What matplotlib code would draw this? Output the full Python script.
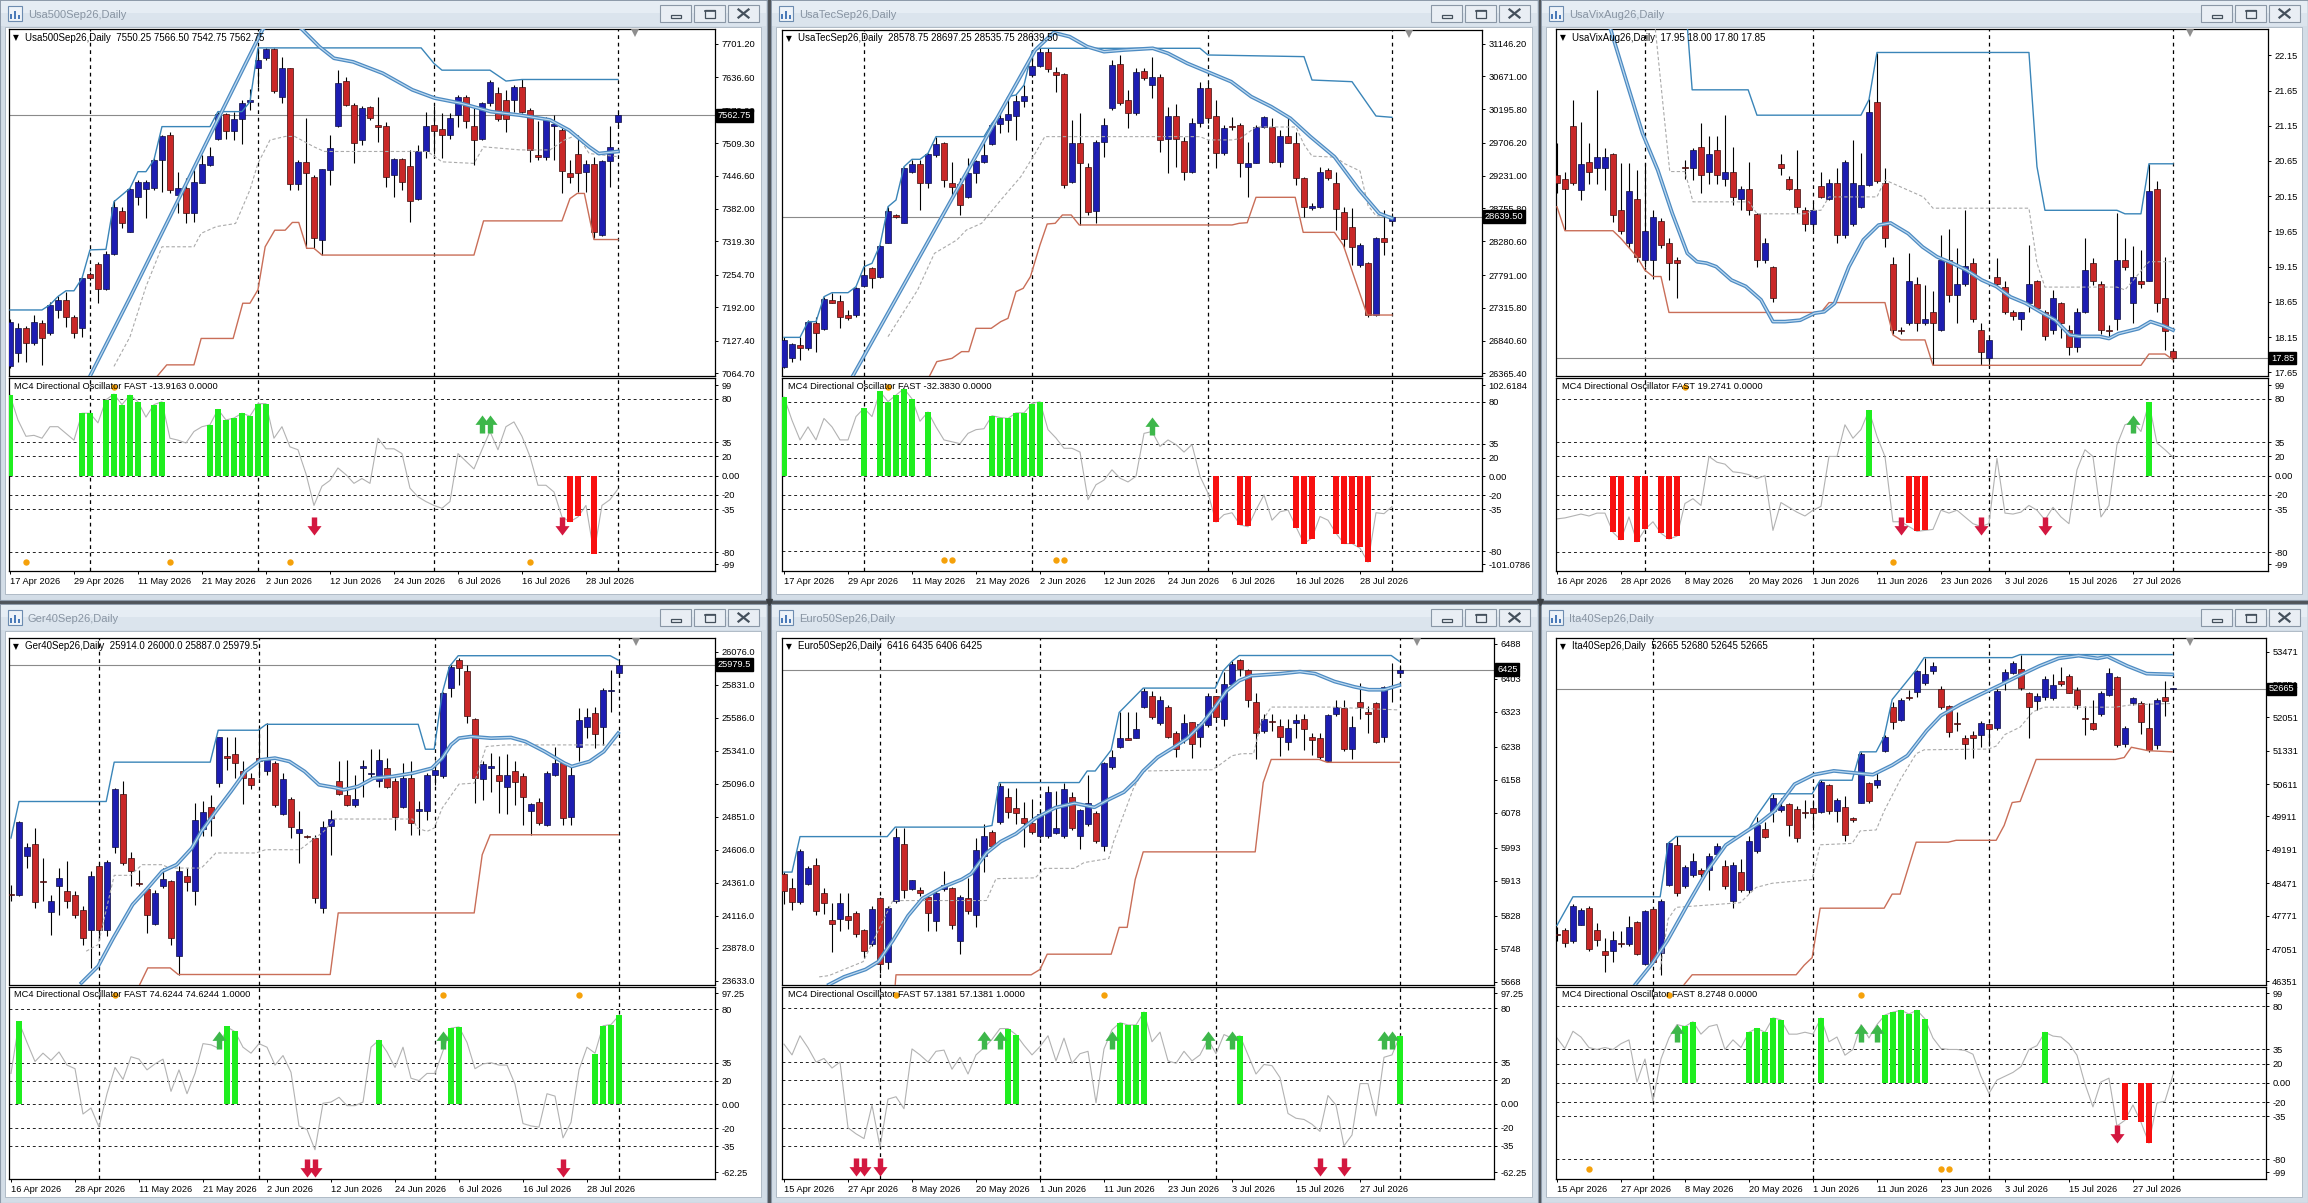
import numpy as np
import matplotlib
matplotlib.use("Agg")
import matplotlib.pyplot as plt
from matplotlib.patches import Rectangle
from matplotlib.path import Path
from matplotlib.transforms import offset_copy, blended_transform_factory

plt.rcParams["font.family"] = ["Liberation Sans", "DejaVu Sans"]

W, H = 2308, 1203
FS = 6.7

# ---------------- Usa500Sep26 ----------------
usa500_open = [7078, 7103, 7153, 7124, 7162, 7142, 7187, 7206, 7173, 7152,
               7256, 7276, 7227, 7296, 7379, 7338, 7406, 7420, 7422, 7477,
               7525, 7409, 7423, 7374, 7432, 7467, 7518, 7565, 7533, 7555,
               7589, 7654, 7673, 7690, 7599, 7654, 7430, 7473, 7443, 7323,
               7457, 7542, 7630, 7583, 7515, 7578, 7544, 7542, 7448, 7478,
               7464, 7401, 7494, 7544, 7536, 7525, 7563, 7598, 7542, 7518,
               7587, 7605, 7592, 7592, 7617, 7574, 7486, 7482, 7542, 7534,
               7452, 7489, 7454, 7469, 7332, 7475, 7550.25]
usa500_high = [7170, 7161, 7157, 7177, 7167, 7203, 7213, 7222, 7177, 7251,
               7261, 7280, 7300, 7399, 7386, 7422, 7438, 7438, 7480, 7525,
               7531, 7454, 7441, 7457, 7486, 7502, 7570, 7568, 7570, 7592,
               7613, 7692, 7692, 7692, 7676, 7654, 7477, 7557, 7448, 7460,
               7525, 7650, 7636, 7586, 7581, 7581, 7599, 7549, 7480, 7480,
               7496, 7506, 7570, 7580, 7567, 7567, 7602, 7602, 7576, 7589,
               7631, 7618, 7612, 7621, 7632, 7576, 7551, 7560, 7563, 7538,
               7477, 7525, 7477, 7483, 7477, 7542, 7566.5]
usa500_low = [7075, 7087, 7087, 7119, 7081, 7139, 7171, 7155, 7132, 7135,
              7245, 7200, 7226, 7293, 7345, 7338, 7390, 7364, 7419, 7415,
              7412, 7374, 7354, 7357, 7432, 7464, 7515, 7518, 7515, 7507,
              7573, 7618, 7670, 7605, 7586, 7419, 7419, 7306, 7306, 7293,
              7428, 7541, 7580, 7471, 7506, 7554, 7512, 7425, 7406, 7419,
              7357, 7399, 7480, 7489, 7480, 7518, 7541, 7538, 7467, 7515,
              7580, 7551, 7531, 7570, 7567, 7473, 7477, 7477, 7477, 7412,
              7432, 7415, 7415, 7325, 7329, 7425, 7542.75]
usa500_close = [7164, 7152, 7124, 7164, 7132, 7197, 7206, 7173, 7142, 7248,
                7248, 7227, 7296, 7386, 7354, 7420, 7435, 7435, 7477, 7522,
                7419, 7422, 7374, 7435, 7469, 7484, 7565, 7533, 7555, 7587,
                7592, 7670, 7690, 7609, 7654, 7430, 7473, 7451, 7325, 7460,
                7499, 7625, 7583, 7510, 7576, 7557, 7541, 7444, 7478, 7435,
                7397, 7494, 7542, 7533, 7525, 7557, 7598, 7551, 7516, 7586,
                7628, 7555, 7555, 7617, 7570, 7496, 7483, 7555, 7546, 7456,
                7444, 7452, 7469, 7338, 7475, 7502, 7562.75]
usa500_upper_x = [0, 4, 5, 6, 7, 8, 9, 10, 12, 13, 14, 15, 16, 17, 18, 19, 25, 26, 29, 30,
                  31, 32, 51.4, 53, 54, 60, 62, 64, 76]
usa500_upper_y = [7187, 7187, 7197, 7213, 7224, 7224, 7248, 7303, 7304, 7396, 7409, 7422, 7454,
                  7454, 7477, 7541, 7541, 7570, 7570, 7589, 7693, 7693, 7693, 7663, 7650, 7650,
                  7629, 7632, 7632]
usa500_lower_x = [18.4, 19.6, 23, 23.9, 27.9, 29.1, 30, 31, 31.9, 33.1, 34.4, 35.3, 36.1, 37.1,
                  38, 39, 58, 59.2, 69, 70, 70.9, 71.8, 73, 76]
usa500_lower_y = [7059, 7081, 7081, 7132, 7132, 7200, 7200, 7226, 7309, 7341, 7341, 7356, 7356,
                  7306, 7306, 7293, 7293, 7359, 7359, 7402, 7412, 7412, 7323, 7323]
usa500_mid_x = [13, 15, 17, 19, 23, 23.9, 25.8, 28.2, 30, 31, 32.5, 34.4, 35.6, 38, 39.3, 52.2,
                54, 58, 59.2, 63.8, 67.5, 69.3, 70.9, 72.4, 76]
usa500_mid_y = [7078, 7135, 7232, 7309, 7309, 7335, 7348, 7354, 7419, 7470, 7515, 7522, 7522,
                7502, 7493, 7493, 7473, 7470, 7502, 7496, 7496, 7515, 7525, 7489, 7483]
usa500_ma_x = [10, 15, 20, 25, 29.5, 31.6, 34, 36.5, 38.7, 40.5, 42.9, 46.6, 50.3, 53.1, 56.4,
               60.1, 63.8, 67.5, 69.9, 72.4, 73.6, 76]
usa500_ma_y = [7059, 7211, 7367, 7524, 7664, 7729, 7765, 7729, 7695, 7673, 7666, 7644, 7612,
               7596, 7586, 7570, 7563, 7554, 7534, 7502, 7489, 7493]
usa500_osc = [84, 58, 41, 42, 39, 51, 51, 44, 37, 65,
              65, 55, 79, 85, 74, 84, 77, 61, 74, 77,
              39, 37, 34, 46, 51, 53, 69, 58, 60, 65,
              62, 75, 75, 39, 51, 30, 27, 2, -31, -11,
              -5, 8, 1, -8, -3, -8, 39, 28, 28, 23,
              -13, -22, -27, -31, -34, -27, 23, 15, 7, 27,
              46, 27, 51, 56, 41, 20, -10, -10, -17, -43,
              -48, -43, -31, -81, -31, -25, -13.9]
usa500_green_idx = [0, 9, 10, 12, 13, 14, 15, 16, 18, 19, 25, 26, 27, 28, 29, 30, 31, 32]
usa500_green_val = [84, 65, 65, 79, 85, 74, 84, 77, 74, 77, 53, 69, 58, 60, 65, 62, 75, 75]
usa500_red_idx = [70, 71, 73]
usa500_red_val = [-48, -42, -82]
usa500_up_idx = [59, 60]
usa500_down_idx = [38, 69]
usa500_dot_low = [2, 20, 35, 65]
usa500_dot_high = [13]
usa500_ticks = [7701.20, 7636.60, 7572.00, 7509.30, 7446.60, 7382.00, 7319.30, 7254.70,
                7192.00, 7127.40, 7064.70]
usa500_ticklabels = ["7701.20", "7636.60", "7572.00", "7509.30", "7446.60", "7382.00",
                     "7319.30", "7254.70", "7192.00", "7127.40", "7064.70"]

# ---------------- UsaTecSep26 ----------------
usatec_open = [26462, 26583, 26776, 26728, 27090, 27003, 27429, 27419, 27211, 27211,
               27632, 27888, 27758, 28260, 28662, 28550, 29290, 29401, 29130, 29532,
               29701, 29130, 29111, 28928, 29266, 29435, 29691, 29981, 30039, 30097,
               30320, 30692, 30822, 31030, 30740, 30706, 29145, 29711, 29362, 28724,
               29725, 30208, 30851, 30329, 30136, 30755, 30547, 30668, 29759, 30097,
               29740, 29290, 30001, 30498, 30097, 29556, 29952, 29967, 29362, 29421,
               29943, 29933, 29435, 29807, 29701, 29193, 28758, 28782, 29314, 29130,
               28710, 28492, 27936, 27970, 27211, 28323, 28578.75]
usatec_high = [26897, 26800, 26897, 27139, 27187, 27477, 27526, 27501, 27284, 27622,
               27961, 27912, 28227, 28782, 28670, 29362, 29459, 29459, 29556, 29798,
               29725, 29435, 29193, 29483, 29459, 29749, 29991, 30136, 30378, 30402,
               30547, 31030, 31079, 31079, 30813, 30726, 30039, 30136, 29411, 29749,
               30063, 30909, 30982, 30474, 30788, 30788, 30958, 30706, 30233, 30271,
               29798, 30063, 30595, 30571, 30329, 29967, 30088, 29991, 29725, 29967,
               30097, 30063, 29894, 30063, 29870, 29217, 28830, 29362, 29338, 29290,
               28782, 28758, 28251, 27985, 28347, 28734, 28697.25]
usatec_low = [26440, 26535, 26559, 26704, 26680, 26994, 27380, 27018, 27139, 27187,
              27622, 27598, 27743, 28251, 28625, 28541, 29266, 28734, 29048, 29507,
              29072, 28928, 28662, 28903, 29121, 29411, 29677, 29846, 29870, 29749,
              30233, 30668, 30813, 30740, 30450, 29048, 29121, 28517, 28662, 28541,
              29507, 30184, 30257, 29918, 30112, 30619, 30353, 29580, 29266, 29362,
              29169, 29266, 29943, 29991, 29338, 29532, 29894, 29217, 28928, 29411,
              29918, 29411, 29362, 29701, 29097, 28637, 28734, 28758, 29169, 28444,
              28202, 27936, 27912, 27187, 27197, 28081, 28535.75]
usatec_close = [26849, 26791, 26728, 27115, 26945, 27438, 27390, 27187, 27163, 27598,
                27791, 27743, 28212, 28724, 28637, 29338, 29401, 29130, 29546, 29691,
                29169, 29072, 28807, 29275, 29450, 29532, 29967, 30063, 30126, 30320,
                30387, 30822, 31030, 30774, 30692, 29097, 29711, 29411, 28710, 29725,
                29967, 30837, 30291, 30136, 30740, 30644, 30658, 29749, 30097, 29759,
                29290, 29991, 30498, 30063, 29556, 29918, 29933, 29421, 29411, 29943,
                30078, 29435, 29807, 29711, 29193, 28782, 28792, 29290, 29193, 28744,
                28309, 28202, 28227, 27211, 28323, 28275, 28639.5]
usatec_upper_x = [0, 2, 3, 4, 5, 6, 8, 9, 10, 11, 12, 13, 14, 15, 16, 17, 18, 19, 25, 26,
                  27, 28, 29, 30, 31, 32, 52, 53, 65, 66, 71, 74, 76]
usatec_upper_y = [26887, 26887, 27115, 27115, 27477, 27535, 27535, 27622, 27912, 27961,
                  28227, 28782, 28879, 29362, 29469, 29469, 29556, 29798, 29798, 29991,
                  30136, 30378, 30402, 30547, 31030, 31079, 31079, 30982, 30958, 30619,
                  30595, 30097, 30078]
usatec_lower_x = [18.2, 19.1, 21, 22.2, 23.1, 24, 25.9, 27.1, 28, 29, 29.9, 30.8, 32, 32.9,
                  33.9, 34.8, 35.9, 36.9, 56, 56.9, 57.9, 59, 63.9, 64.9, 68.8, 69.9, 72.9, 76]
usatec_lower_y = [26327, 26535, 26583, 26680, 26680, 27018, 27018, 27115, 27163, 27550,
                  27598, 27767, 28227, 28531, 28541, 28662, 28662, 28517, 28517, 28541,
                  28550, 28918, 28918, 28410, 28410, 28227, 27211, 27211]
usatec_mid_x = [13, 16.7, 18.8, 21.6, 22.8, 24.7, 27.1, 29.6, 31.4, 32.6, 35.1, 52, 53, 56,
                57, 59, 64, 65, 66, 69, 70, 72, 73, 74, 76]
usatec_mid_y = [26897, 27574, 28105, 28299, 28444, 28541, 28879, 29217, 29556, 29798, 29798,
                29798, 29750, 29750, 29770, 29938, 29938, 29684, 29515, 29500, 29410, 29300,
                28800, 28650, 28645]
usatec_ma_x = [8.6, 31.4, 33.7, 35.7, 37.9, 40, 42.5, 46.1, 48, 50.4, 52.9, 55.9, 58.4, 60.9,
               63.3, 65.8, 68.8, 71.9, 74.4, 76]
usatec_ma_y = [26327, 31054, 31306, 31248, 31103, 31030, 31054, 31079, 31006, 30861, 30740,
               30595, 30378, 30233, 30063, 29798, 29507, 29024, 28685, 28613]
usatec_osc = [85, 60, 39, 53, 39, 62, 53, 39, 39, 64,
              73, 64, 91, 80, 87, 94, 83, 59, 69, 53,
              39, 37, 35, 46, 50, 51, 65, 63, 62, 68,
              68, 78, 80, 50, 41, 30, 30, 26, -25, -9,
              -4, 7, -2, -6, 0, 46, 48, 32, 39, 34,
              26, 34, 0, -18, -49, -41, -39, -52, -54, -36,
              -20, -47, -38, -36, -54, -72, -66, -43, -47, -61,
              -72, -72, -77, -92, -39, -40, -32.4]
usatec_green_idx = [0, 10, 12, 13, 14, 15, 16, 18, 26, 27, 28, 29, 30, 31, 32]
usatec_green_val = [85, 73, 91, 80, 87, 94, 83, 69, 65, 63, 62, 68, 68, 78, 80]
usatec_red_idx = [54, 57, 58, 64, 65, 66, 69, 70, 71, 72, 73]
usatec_red_val = [-49, -52, -53, -55, -72, -67, -62, -72, -72, -76, -92]
usatec_up_idx = [46]
usatec_down_idx = []
usatec_dot_low = [20, 21, 34, 35]
usatec_dot_high = [13]
usatec_ticks = [31146.20, 30671.00, 30195.80, 29706.20, 29231.00, 28755.80, 28280.60,
                27791.00, 27315.80, 26840.60, 26365.40]
usatec_ticklabels = ["31146.20", "30671.00", "30195.80", "29706.20", "29231.00", "28755.80",
                     "28280.60", "27791.00", "27315.80", "26840.60", "26365.40"]

# ---------------- UsaVixAug26 ----------------
usavix_open = [20.45, 20.40, 21.15, 20.24, 20.64, 20.55, 20.55, 20.75, 19.95, 19.49,
               20.11, 19.25, 19.25, 19.80, 19.49, 19.25, 20.56, 20.55, 20.85, 20.50,
               20.80, 20.40, 20.50, 20.11, 20.25, 19.90, 19.25, 19.15, 20.60, 20.40,
               20.25, 19.95, 19.76, 20.30, 20.11, 20.34, 19.60, 19.76, 19.99, 20.31,
               21.49, 20.34, 19.19, 18.25, 18.35, 18.90, 18.35, 18.50, 18.25, 19.25,
               18.75, 18.90, 19.20, 18.25, 17.85, 19.00, 18.86, 18.51, 18.40, 18.64,
               18.95, 18.51, 18.25, 18.64, 18.25, 18.01, 18.50, 19.20, 18.90, 18.25,
               18.40, 19.25, 18.64, 18.95, 18.95, 20.25, 18.70, 17.95]
usavix_high = [20.90, 20.50, 21.52, 21.21, 20.90, 21.66, 20.83, 20.76, 20.62, 20.62,
               20.52, 20.62, 19.95, 19.84, 19.55, 19.29, 20.66, 20.83, 21.19, 21.00,
               21.00, 21.30, 20.85, 20.29, 20.64, 19.91, 19.55, 19.16, 20.75, 20.43,
               20.81, 20.00, 20.05, 20.50, 20.39, 20.55, 20.66, 20.95, 20.76, 21.53,
               22.18, 20.55, 19.29, 18.30, 19.34, 19.01, 18.89, 18.80, 19.60, 19.69,
               19.41, 19.95, 19.27, 18.35, 18.14, 19.27, 18.94, 18.53, 18.51, 19.46,
               18.96, 18.54, 18.82, 18.65, 18.32, 18.56, 19.55, 19.27, 18.94, 18.32,
               19.91, 19.55, 19.44, 19.39, 20.61, 20.36, 19.29, 18.00]
usavix_low = [20.19, 19.67, 20.31, 20.10, 20.33, 20.33, 20.24, 19.79, 19.62, 19.41,
              19.22, 19.15, 18.98, 19.41, 18.96, 18.70, 20.40, 20.38, 20.19, 20.33,
              20.33, 20.29, 20.03, 19.95, 19.88, 19.15, 19.20, 18.65, 20.45, 20.24,
              19.91, 19.65, 19.67, 20.12, 20.10, 19.49, 19.55, 19.72, 19.98, 20.29,
              20.34, 19.43, 18.20, 18.20, 18.32, 18.23, 18.32, 17.75, 18.23, 18.65,
              18.35, 18.88, 18.37, 17.75, 17.73, 18.87, 18.48, 18.39, 18.25, 18.51,
              18.54, 18.11, 18.20, 18.14, 17.90, 17.94, 18.49, 18.89, 18.20, 18.15,
              18.25, 19.10, 18.35, 18.84, 18.94, 18.51, 17.97, 17.80]
usavix_close = [20.34, 20.25, 20.34, 20.61, 20.50, 20.70, 20.70, 19.88, 19.65, 20.22,
                19.29, 19.66, 19.85, 19.46, 19.20, 19.20, 20.55, 20.81, 20.45, 20.75,
                20.45, 20.50, 20.14, 20.25, 19.95, 19.25, 19.49, 18.70, 20.55, 20.25,
                19.99, 19.76, 19.95, 20.14, 20.34, 19.60, 20.64, 20.34, 20.31, 21.35,
                20.36, 19.55, 18.25, 18.24, 18.95, 18.35, 18.40, 18.35, 19.25, 18.75,
                18.90, 19.16, 18.40, 17.94, 18.11, 18.90, 18.50, 18.45, 18.51, 18.90,
                18.56, 18.16, 18.70, 18.35, 18.01, 18.50, 19.10, 18.95, 18.25, 18.24,
                19.25, 19.15, 19.01, 18.90, 20.22, 18.64, 18.24, 17.85]
usavix_upper_x = [0, 16, 16.9, 23.9, 25, 38, 39, 40, 59, 60, 61, 70, 71, 73, 74, 77]
usavix_upper_y = [23.0, 23.0, 21.66, 21.66, 21.30, 21.30, 21.52, 22.19, 22.19, 20.57, 19.95,
                  19.95, 19.90, 19.90, 20.61, 20.61]
usavix_lower_x = [0, 1, 7, 8, 10, 11, 12, 13, 14, 33, 34, 41, 42, 43, 46, 47, 73, 74, 76, 77]
usavix_lower_y = [20.00, 19.66, 19.66, 19.55, 19.29, 19.10, 19.01, 19.01, 18.50, 18.50, 18.64,
                  18.64, 18.18, 18.11, 18.11, 17.75, 17.75, 17.91, 17.91, 17.83]
usavix_mid_x = [12.3, 14.1, 16, 17, 24, 25, 31, 32, 33, 34, 40, 41, 45.8, 47, 59, 60, 61, 70,
                71, 74, 77]
usavix_mid_y = [22.52, 20.50, 20.50, 20.07, 20.07, 19.90, 19.90, 19.95, 19.95, 20.14, 20.14,
                20.38, 20.14, 19.98, 19.98, 19.20, 18.86, 18.86, 18.82, 19.22, 19.22]
usavix_ma_x = [5.5, 6.7, 8.9, 10.7, 12.6, 14.4, 16.3, 17.5, 18.7, 19.9, 21.8, 23.6, 25.5, 27,
               28.5, 30.4, 32.2, 33.4, 34.7, 36.5, 38.3, 40.2, 41.7, 43.9, 45.7, 47.5, 49.4,
               51.2, 53.1, 54.9, 56.7, 58.6, 60.4, 62.3, 64.1, 65.3, 67.8, 69, 70.2, 72.7,
               74.2, 75.8, 77]
usavix_ma_y = [22.9, 22.52, 21.70, 21.04, 20.52, 19.91, 19.34, 19.22, 19.20, 19.15, 18.96,
               18.87, 18.68, 18.37, 18.37, 18.39, 18.49, 18.51, 18.63, 19.15, 19.53, 19.74,
               19.77, 19.62, 19.43, 19.29, 19.20, 19.10, 18.96, 18.87, 18.72, 18.63, 18.51,
               18.39, 18.18, 18.16, 18.16, 18.13, 18.20, 18.27, 18.37, 18.31, 18.25]
usavix_osc = [-45, -44, -42, -40, -42, -39, -39, -59, -67, -43,
              -69, -56, -48, -60, -66, -63, -29, -24, -31, 20,
              14, 12, 4, 3, 1, -3, 0, -57, -28, -33,
              -38, -42, -36, -32, 20, 20, 53, 39, 48, 68,
              41, 20, -48, -48, -53, -58, -57, -56, -36, -39,
              -36, -43, -50, -53, -50, 18, -39, -40, -38, -31,
              -36, -46, -33, -43, -50, 6, 27, 20, -43, -31,
              32, 53, 56, 46, 76, 34, 27, 19.3]
usavix_green_idx = [39, 74]
usavix_green_val = [68, 77]
usavix_red_idx = [7, 8, 10, 11, 13, 14, 15, 44, 45, 46]
usavix_red_val = [-59, -67, -69, -56, -60, -66, -63, -49, -58, -57]
usavix_up_idx = [72]
usavix_down_idx = [43, 53, 61]
usavix_dot_low = [42]
usavix_dot_high = [16]
usavix_ticks = [22.15, 21.65, 21.15, 20.65, 20.15, 19.65, 19.15, 18.65, 18.15, 17.65]
usavix_ticklabels = ["22.15", "21.65", "21.15", "20.65", "20.15", "19.65", "19.15", "18.65",
                     "18.15", "17.65"]

# ---------------- Ger40Sep26 ----------------
ger40_open = [24278, 24268, 24557, 24648, 24377, 24144, 24335, 24302, 24273, 24161,
              24013, 24483, 24013, 24624, 25019, 24545, 24359, 24317, 24055, 24335,
              24377, 23816, 24409, 24302, 24762, 24925, 25100, 25298, 25315, 25187,
              25142, 25286, 25187, 25248, 24871, 24984, 24730, 24705, 24693, 24174,
              24779, 25118, 25009, 24940, 25211, 25167, 25118, 25211, 25118, 24920,
              25142, 24895, 24895, 25162, 25150, 25804, 26014, 25933, 25577, 25132,
              25211, 25162, 25068, 25192, 25150, 24890, 24959, 24792, 25162, 25248,
              24846, 25365, 25520, 25619, 25520, 25784, 25914]
ger40_high = [24347, 24816, 24656, 24767, 24545, 24273, 24470, 24520, 24297, 24186,
              24446, 24507, 24532, 25063, 25113, 24589, 24458, 24322, 24310, 24470,
              24384, 24483, 24470, 24952, 24964, 25014, 25446, 25439, 25439, 25261,
              25174, 25533, 25545, 25261, 25174, 25001, 24890, 24717, 24717, 24816,
              24903, 25266, 25273, 25162, 25273, 25355, 25355, 25286, 25137, 25248,
              25261, 24964, 25174, 25266, 25780, 25977, 26027, 25977, 25587, 25261,
              25323, 25298, 25315, 25261, 25174, 24952, 24989, 25187, 25372, 25261,
              25224, 25656, 25661, 25668, 25809, 25940, 26000]
ger40_low = [24223, 24260, 24470, 24174, 24223, 23976, 24124, 24174, 24100, 23902,
             23729, 23939, 23964, 24581, 24495, 24334, 24334, 23988, 24050, 24322,
             23902, 23680, 24297, 24198, 24705, 24705, 25068, 25199, 25137, 24945,
             25056, 25137, 25162, 24920, 24866, 24693, 24507, 24690, 24211, 24137,
             24569, 25014, 24927, 24920, 24994, 25125, 25068, 25063, 24754, 24915,
             24717, 24717, 24828, 25088, 25142, 25742, 25829, 25545, 24952, 24977,
             25038, 24878, 24871, 24940, 24791, 24717, 24786, 24779, 25150, 24792,
             24792, 25261, 25434, 25360, 25384, 25631, 25887]
ger40_close = [24268, 24811, 24624, 24218, 24367, 24223, 24396, 24223, 24120, 23952,
               24409, 24013, 24515, 25058, 24507, 24450, 24352, 24125, 24285, 24391,
               23952, 24446, 24367, 24829, 24885, 24841, 25439, 25286, 25248, 25137,
               25088, 25266, 25286, 24935, 25132, 24772, 24762, 24698, 24248, 24772,
               24836, 25019, 24940, 24984, 25231, 25174, 25273, 25068, 24846, 25142,
               24804, 24910, 25162, 25199, 25767, 25965, 25952, 25602, 25142, 25241,
               25224, 25118, 25162, 25108, 24994, 24945, 24804, 25174, 25248, 24841,
               25162, 25570, 25594, 25463, 25792, 25792, 25979.5]
ger40_upper_x = [0, 1, 11.9, 12.9, 24.9, 25.9, 30.9, 31.9, 50.9, 51.8, 52.9, 53.9, 54.8, 55.9,
                 74.9, 75.9]
ger40_upper_y = [24693, 24964, 24964, 25256, 25256, 25493, 25493, 25537, 25537, 25352, 25352,
                 25767, 25965, 26046, 26046, 26014]
ger40_lower_x = [16.1, 17.1, 19.9, 20.9, 39.9, 40.9, 57.9, 58.9, 59.9, 75.9]
ger40_lower_y = [23606, 23729, 23729, 23680, 23680, 24137, 24137, 24569, 24717, 24717]
ger40_mid_x = [9.4, 10.9, 12.9, 14.9, 16.4, 18.9, 19.8, 23.8, 25.6, 30.6, 31.8, 36.1, 39.1,
               40.4, 50.2, 50.8, 52, 52.9, 53.9, 56, 57.9, 59.4, 61.8, 75.9]
ger40_mid_y = [23853, 23902, 24416, 24416, 24495, 24495, 24470, 24470, 24582, 24582, 24606,
               24606, 24742, 24834, 24834, 24767, 24742, 24767, 24915, 25093, 25100, 25372,
               25384, 25384]
ger40_ma_x = [8.8, 10.9, 12.8, 15.2, 17.1, 18.9, 20.7, 22.6, 23.8, 25.6, 27.5, 29.3, 31.2, 33,
              34.8, 36.7, 38.5, 40.4, 41.6, 43.4, 45.3, 47.7, 50.2, 52.6, 53.9, 55, 56, 57.5,
              60, 62.5, 64.3, 66.7, 69.2, 70.1, 72.3, 74.1, 75.9]
ger40_ma_y = [23618, 23742, 23952, 24199, 24322, 24446, 24495, 24618, 24742, 24890, 25039,
              25187, 25273, 25286, 25261, 25187, 25088, 25068, 25051, 25076, 25137, 25150,
              25174, 25211, 25286, 25385, 25434, 25446, 25434, 25439, 25409, 25335, 25248,
              25224, 25261, 25335, 25471]
ger40_osc = [26, 69, 52, 36, 43, 37, 44, 33, 30, -8,
             -3, -19, 9, 31, 21, 40, 38, 29, 34, 38,
             11, 29, 9, 26, 51, 50, 47, 65, 61, 48,
             43, 51, 48, 33, 41, 27, -18, -21, -38, 1,
             2, 6, -1, -1, 2, 48, 54, 44, 31, 48,
             22, 20, 26, 26, 45, 64, 65, 52, 30, 34,
             35, 33, 33, 17, -16, -18, -19, 9, 7, -28,
             -15, 29, 48, 43, 66, 67, 74.6]
ger40_green_idx = [1, 27, 28, 46, 55, 56, 73, 74, 75, 76]
ger40_green_val = [70, 66, 62, 54, 64, 65, 42, 66, 67, 74.6]
ger40_red_idx = []
ger40_red_val = []
ger40_up_idx = [26, 54]
ger40_down_idx = [37, 38, 69]
ger40_dot_low = []
ger40_dot_high = [13, 54, 71]
ger40_ticks = [26076.0, 25831.0, 25586.0, 25341.0, 25096.0, 24851.0, 24606.0, 24361.0,
               24116.0, 23878.0, 23633.0]
ger40_ticklabels = ["26076.0", "25831.0", "25586.0", "25341.0", "25096.0", "24851.0",
                    "24606.0", "24361.0", "24116.0", "23878.0", "23633.0"]

# ---------------- Euro50Sep26 ----------------
euro50_open = [5930, 5896, 5862, 5905, 5950, 5883, 5817, 5821, 5828, 5834,
               5794, 5759, 5870, 5717, 5865, 6001, 5893, 5891, 5874, 5816,
               5893, 5896, 5768, 5872, 5831, 5973, 6031, 6056, 6117, 6090,
               6066, 6054, 6022, 6022, 6029, 6022, 6117, 6022, 6050, 6077,
               5997, 6188, 6237, 6258, 6260, 6334, 6360, 6295, 6334, 6272,
               6256, 6297, 6262, 6290, 6360, 6304, 6389, 6447, 6424, 6346,
               6276, 6301, 6287, 6250, 6295, 6306, 6262, 6260, 6204, 6318,
               6332, 6232, 6346, 6321, 6343, 6262, 6385, 6416]
euro50_high = [5934, 5920, 5990, 5948, 5969, 5895, 5858, 5883, 5883, 5840,
               5796, 5851, 5874, 5851, 6040, 6040, 5916, 5897, 5883, 5888,
               5936, 5899, 5879, 5920, 6017, 6050, 6036, 6151, 6138, 6138,
               6105, 6110, 6087, 6142, 6130, 6151, 6127, 6087, 6170, 6082,
               6202, 6230, 6321, 6323, 6321, 6380, 6373, 6360, 6339, 6276,
               6318, 6299, 6299, 6367, 6361, 6420, 6445, 6450, 6426, 6369,
               6318, 6318, 6306, 6304, 6318, 6318, 6272, 6272, 6318, 6350,
               6350, 6313, 6392, 6336, 6346, 6385, 6441, 6435]
euro50_low = [5856, 5842, 5856, 5902, 5831, 5833, 5740, 5791, 5796, 5777,
              5726, 5754, 5689, 5698, 5860, 5870, 5890, 5877, 5791, 5791,
              5888, 5796, 5736, 5833, 5800, 5934, 5990, 6050, 6064, 6050,
              5994, 6027, 6017, 6017, 6027, 6017, 6036, 5990, 6045, 6004,
              5985, 6184, 6235, 6253, 6258, 6332, 6306, 6290, 6258, 6212,
              6247, 6210, 6237, 6286, 6304, 6287, 6385, 6410, 6334, 6207,
              6272, 6276, 6216, 6230, 6258, 6230, 6219, 6207, 6200, 6313,
              6228, 6207, 6304, 6272, 6247, 6250, 6346, 6406]
euro50_close = [5888, 5862, 5985, 5943, 5839, 5860, 5807, 5858, 5819, 5784,
                5742, 5844, 5712, 5846, 6019, 5890, 5914, 5883, 5834, 5883,
                5902, 5805, 5874, 5840, 5988, 6022, 5997, 6142, 6080, 6077,
                6053, 6031, 6075, 6127, 6041, 6136, 6041, 6084, 6101, 6010,
                6198, 6214, 6258, 6253, 6281, 6373, 6311, 6350, 6262, 6232,
                6295, 6244, 6293, 6361, 6309, 6389, 6438, 6426, 6352, 6272,
                6306, 6297, 6262, 6284, 6302, 6281, 6253, 6214, 6315, 6334,
                6232, 6286, 6334, 6318, 6249, 6383, 6383, 6425]
euro50_upper_x = [0, 1, 2, 12.9, 13.9, 24.9, 26, 26.9, 36.9, 37.9, 38.9, 40.9, 41.9, 44.9,
                  53.9, 54.9, 56, 56.9, 75.9, 76.9]
euro50_upper_y = [5934, 5934, 6020, 6020, 6043, 6043, 6047, 6151, 6151, 6179, 6179, 6230, 6321,
                  6380, 6380, 6422, 6445, 6459, 6459, 6445]
euro50_lower_x = [13.9, 14, 30.9, 32, 32.9, 40.9, 41.9, 42.9, 43.9, 44.9, 58.9, 59.9, 60.9,
                  66.9, 67.9, 76.9]
euro50_lower_y = [5661, 5685, 5685, 5698, 5735, 5735, 5800, 5800, 5916, 5983, 5983, 6151, 6207,
                  6207, 6200, 6200]
euro50_mid_x = [4.4, 5.6, 9.9, 13.6, 25.3, 26.5, 31.4, 32.6, 36.3, 37.5, 40.6, 41.2, 43.7, 44.9,
                53.5, 54.4, 56, 57.2, 58.7, 59.6, 60.9, 68.2, 76.9]
euro50_mid_y = [5680, 5683, 5717, 5865, 5865, 5918, 5920, 5943, 5943, 5957, 5967, 6008, 6138,
                6179, 6182, 6193, 6216, 6221, 6221, 6295, 6334, 6334, 6327]
euro50_ma_x = [5.6, 7.5, 10.2, 11.8, 13.6, 15.5, 17.3, 19.8, 22.2, 23.4, 25.3, 27.1, 29, 31.4,
               33.9, 36.3, 38.8, 40.6, 42.5, 44, 44.9, 46.7, 48.6, 50.4, 52.3, 53.8, 55.3,
               56.9, 58.4, 62.1, 64.5, 66.4, 68.8, 71.3, 73.1, 75, 76.9]
euro50_ma_y = [5661, 5680, 5698, 5717, 5768, 5828, 5870, 5897, 5916, 5930, 5980, 6008, 6027,
               6064, 6090, 6101, 6091, 6110, 6128, 6156, 6179, 6212, 6235, 6258, 6295, 6332,
               6373, 6398, 6410, 6415, 6420, 6415, 6396, 6383, 6376, 6376, 6387]
euro50_osc = [50, 41, 57, 47, 35, 38, 30, 35, -20, -25,
              -29, -1, -36, 4, 6, -4, 46, 41, 35, 44,
              45, 29, 39, 25, 41, 47, 54, 63, 63, 58,
              49, 41, 48, 57, 36, 55, 34, 42, 44, 1,
              46, 62, 68, 66, 66, 77, 52, 60, 36, 34,
              44, 36, 41, 54, 42, 58, 55, 57, 41, 25,
              33, 32, 22, -8, -12, -13, -17, -23, 7, -1,
              -35, -26, 17, 17, -10, 39, 41, 57.1]
euro50_green_idx = [28, 29, 42, 43, 44, 45, 57, 77]
euro50_green_val = [63, 58, 68, 66, 66, 77, 57, 57.1]
euro50_red_idx = []
euro50_red_val = []
euro50_up_idx = [25, 27, 41, 53, 56, 75, 76]
euro50_down_idx = [9, 10, 12, 67, 70]
euro50_dot_low = []
euro50_dot_high = [14, 40]
euro50_ticks = [6488, 6403, 6323, 6238, 6158, 6078, 5993, 5913, 5828, 5748, 5668]
euro50_ticklabels = ["6488", "6403", "6323", "6238", "6158", "6078", "5993", "5913", "5828",
                     "5748", "5668"]

# ---------------- Ita40Sep26 ----------------
ita40_open = [47355, 47466, 47232, 47577, 47932, 47466, 47002, 47002, 47191, 47150,
              47627, 46726, 47915, 46973, 48425, 49306, 48401, 48648, 48755, 48755,
              49109, 48837, 48096, 48718, 48319, 49166, 49635, 50030, 50047, 50179,
              50071, 49993, 50096, 50014, 50590, 50030, 50113, 49882, 50212, 50623,
              50590, 51331, 52269, 51990, 52500, 52599, 52788, 53059, 52664, 52294,
              51924, 51611, 51677, 51660, 51907, 51825, 52845, 53010, 53092, 52566,
              52401, 52500, 52459, 52829, 52952, 52648, 52047, 51924, 52129, 52541,
              52911, 51471, 52352, 52352, 51825, 51446, 52500, 52665]
ita40_high = [47520, 47495, 48014, 47932, 47973, 47602, 47298, 47438, 47438, 47767,
              47664, 47899, 47932, 48137, 49376, 49495, 48862, 49125, 48796, 49125,
              49331, 48961, 48919, 49002, 49495, 49907, 49783, 50401, 50319, 50195,
              50129, 50277, 50261, 50690, 50607, 50319, 50360, 49907, 51306, 50648,
              50854, 51677, 52376, 52459, 52648, 53076, 53339, 53241, 52730, 52319,
              52171, 51677, 51759, 51965, 51924, 52664, 53092, 53257, 53405, 52599,
              52566, 52952, 52994, 53142, 52994, 52706, 52294, 52417, 52623, 53117,
              52952, 51858, 52500, 52401, 52352, 52459, 52829, 52680]
ita40_low = [47232, 47084, 47191, 47561, 47002, 47108, 46561, 46780, 47084, 47108,
             46923, 46701, 46726, 46495, 48401, 48203, 48368, 48615, 48615, 48319,
             49084, 48343, 47932, 48286, 48261, 49125, 49438, 49783, 50014, 49495,
             49356, 49870, 49619, 49993, 49965, 49783, 49389, 49800, 50195, 50212,
             50524, 51306, 51800, 51965, 52417, 52483, 52747, 52994, 52236, 51636,
             51759, 51142, 51183, 51413, 51430, 51775, 52648, 52977, 52648, 51611,
             52212, 52434, 52434, 52730, 52566, 52236, 51677, 51775, 52088, 52516,
             51413, 51413, 52319, 51693, 51306, 51364, 52072, 52645]
ita40_close = [47350, 47191, 47989, 47899, 47051, 47248, 46923, 47248, 47150, 47520,
               46948, 47874, 46780, 48096, 49331, 48261, 48812, 48944, 48673, 49059,
               49273, 48401, 48862, 48319, 49376, 49718, 49471, 50319, 50129, 49718,
               49454, 49990, 49993, 50648, 50030, 50277, 49520, 49825, 51249, 50236,
               50693, 51636, 51940, 52417, 52459, 53059, 52994, 53158, 52269, 51743,
               51907, 51471, 51611, 51924, 51800, 52623, 53035, 53224, 52681, 52269,
               52516, 52870, 52747, 52763, 52582, 52319, 52023, 51800, 52582, 53010,
               51446, 51825, 52459, 51940, 51347, 52434, 52401, 52665]
ita40_upper_x = [0, 2, 12.9, 13.9, 14.9, 22.9, 23.9, 24.9, 26.9, 31.9, 32.9, 36.9, 37.9, 39.9,
                 40.9, 41.9, 42.9, 44.9, 45.9, 56.9, 57.9, 76.9]
ita40_upper_y = [47560, 48178, 48178, 49331, 49479, 49479, 49619, 49907, 50401, 50401, 50693,
                 50693, 51306, 51306, 51636, 52434, 52648, 53076, 53339, 53339, 53405, 53405]
ita40_lower_x = [15.9, 16.9, 29.9, 30.9, 31.9, 32.9, 40.9, 41.9, 42.9, 44.9, 48.9, 49.9, 54.9,
                 55.9, 56.9, 57.9, 59.9, 69.8, 70.9, 71.8, 73.9, 76.9]
ita40_lower_y = [46285, 46495, 46495, 46701, 46866, 47932, 47932, 48236, 48236, 49356, 49356,
                 49397, 49397, 49718, 50212, 50236, 51142, 51142, 51183, 51405, 51331, 51306]
ita40_mid_x = [12.9, 13.9, 14.9, 22.9, 24.9, 26.9, 31.9, 32.9, 36.9, 37.9, 39.9, 40.9, 42.9,
               44.9, 45.9, 53.9, 54.9, 56, 57.9, 59.5, 60.9, 69.8, 71.8, 76.9]
ita40_mid_y = [46600, 47700, 47950, 48050, 48380, 48470, 48550, 49300, 49330, 49600, 49620,
               50030, 50700, 51265, 51350, 51365, 51430, 51680, 51840, 52170, 52270, 52270,
               52320, 52350]
ita40_ma_x = [9.8, 11.9, 13.8, 16.2, 18.7, 21.1, 23.6, 25.4, 27.2, 29.7, 32.1, 34.6, 37, 39.5,
              41.9, 43.8, 46.2, 48, 50.5, 52.9, 55.4, 57.8, 60.3, 62.7, 65.2, 67.6, 68.8,
              71.3, 73.7, 76.9]
ita40_ma_y = [46285, 46738, 47232, 47973, 48718, 49294, 49581, 49783, 50030, 50607, 50813,
              50895, 50854, 50813, 51018, 51224, 51759, 52088, 52335, 52541, 52747, 52952,
              53158, 53323, 53381, 53323, 53364, 53158, 52994, 52977]
ita40_osc = [47, 36, 54, 48, 37, 35, 37, 35, 41, 45,
             1, 25, -19, 25, 47, 61, 59, 64, 51, 59,
             61, 35, 45, 37, 53, 57, 53, 68, 66, 51,
             51, 53, 51, 68, 43, 48, 29, 35, 61, 47,
             61, 71, 74, 76, 72, 76, 67, 47, 36, 35,
             35, 34, 30, 7, -11, 3, 7, 11, 17, 35,
             39, 53, 49, 48, 41, 29, -1, -25, 1, 5,
             -45, -39, -23, -41, -63, -21, -19, 8.3]
ita40_green_idx = [16, 17, 24, 25, 26, 27, 28, 33, 41, 42, 43, 44, 45, 46, 61]
ita40_green_val = [59, 64, 53, 57, 53, 68, 66, 68, 71, 74, 76, 72, 76, 67, 53]
ita40_red_idx = [71, 73, 74]
ita40_red_val = [-39, -41, -63]
ita40_up_idx = [15, 38, 40]
ita40_down_idx = [70]
ita40_dot_low = [4, 48, 49]
ita40_dot_high = [14, 38]
ita40_ticks = [53471, 52751, 52051, 51331, 50611, 49911, 49191, 48471, 47771, 47051, 46351]
ita40_ticklabels = ["53471", "52751", "52051", "51331", "50611", "49911", "49191", "48471",
                    "47771", "47051", "46351"]

# date axis labels (every 8th bar) and month separators
date_pos = [0, 8, 16, 24, 32, 40, 48, 56, 64, 72]
dates_usa = ["17 Apr 2026", "29 Apr 2026", "11 May 2026", "21 May 2026", "2 Jun 2026",
             "12 Jun 2026", "24 Jun 2026", "6 Jul 2026", "16 Jul 2026", "28 Jul 2026"]
dates_vix = ["16 Apr 2026", "28 Apr 2026", "8 May 2026", "20 May 2026", "1 Jun 2026",
             "11 Jun 2026", "23 Jun 2026", "3 Jul 2026", "15 Jul 2026", "27 Jul 2026"]
dates_ger = ["16 Apr 2026", "28 Apr 2026", "11 May 2026", "21 May 2026", "2 Jun 2026",
             "12 Jun 2026", "24 Jun 2026", "6 Jul 2026", "16 Jul 2026", "28 Jul 2026"]
dates_eu = ["15 Apr 2026", "27 Apr 2026", "8 May 2026", "20 May 2026", "1 Jun 2026",
            "11 Jun 2026", "23 Jun 2026", "3 Jul 2026", "15 Jul 2026", "27 Jul 2026"]


def make_panel(name, box, off, ylim, olim, levels, olabels, last, lastlabel, title, otitle,
               dates, seps, arrow_up_y, arrow_dn_y):
    g = globals()
    return dict(
        name=name, box=box, off=off, ylim=ylim, olim=olim, levels=levels, olabels=olabels,
        last=last, lastlabel=lastlabel, title=title, otitle=otitle, dates=dates, seps=seps,
        up_y=arrow_up_y, dn_y=arrow_dn_y,
        **{k: g[name + "_" + k] for k in
           ["open", "high", "low", "close", "upper_x", "upper_y", "lower_x", "lower_y",
            "mid_x", "mid_y", "ma_x", "ma_y", "osc", "green_idx", "green_val", "red_idx",
            "red_val", "up_idx", "down_idx", "dot_low", "dot_high", "ticks", "ticklabels"]})


lv7 = [80, 35, 20, 0, -20, -35, -80]
lv6 = [80, 35, 20, 0, -20, -35]
panels = [
    make_panel("usa500", (9, 715, 29.3, 376, 378.3, 571), 0.12, (7059.5, 7728.9), (-99.3, 101.4),
               lv7, ("99", "-99"), 7562.75, "7562.75",
               "Usa500Sep26,Daily  7550.25 7566.50 7542.75 7562.75",
               "MC4 Directional Oscillator FAST -13.9163 0.0000",
               dates_usa, [10, 31, 53, 76], 54, -52),
    make_panel("usatec", (782, 1482, 30, 376, 378.3, 571), 0.25, (26326.7, 31344.4), (-101.4, 105.0),
               lv7, ("102.6184", "-101.0786"), 28639.5, "28639.50",
               "UsaTecSep26,Daily  28578.75 28697.25 28535.75 28639.50",
               "MC4 Directional Oscillator FAST -32.3830 0.0000",
               dates_usa, [10, 31, 53, 76], 54, -52),
    make_panel("usavix", (1556, 2268, 29.3, 376, 378.3, 571), 0.12, (17.598, 22.519), (-99.3, 101.4),
               lv7, ("99", "-99"), 17.85, "17.85",
               "UsaVixAug26,Daily  17.95 18.00 17.80 17.85",
               "MC4 Directional Oscillator FAST 19.2741 0.0000",
               dates_vix, [11, 32, 54, 77], 54, -52),
    make_panel("ger40", (9, 715, 637.7, 984.5, 986.5, 1179), 0.25, (23605.8, 26179.7), (-62.5, 98.9),
               lv6, ("97.25", "-62.25"), 25979.5, "25979.5",
               "Ger40Sep26,Daily  25914.0 26000.0 25887.0 25979.5",
               "MC4 Directional Oscillator FAST 74.6244 74.6244 1.0000",
               dates_ger, [11, 31, 53, 76], 54, -53),
    make_panel("euro50", (782, 1494, 637.8, 984.5, 986.5, 1179), 0.25, (5661.5, 6501.9), (-62.8, 98.2),
               lv6, ("97.25", "-62.25"), 6425, "6425",
               "Euro50Sep26,Daily  6416 6435 6406 6425",
               "MC4 Directional Oscillator FAST 57.1381 57.1381 1.0000",
               dates_eu, [12, 32, 54, 77], 53.5, -53),
    make_panel("ita40", (1556, 2266, 637.8, 984.5, 986.5, 1179), 0.12, (46285, 53767), (-100.4, 100.8),
               lv7, ("99", "-99"), 52665, "52665",
               "Ita40Sep26,Daily  52665 52680 52645 52665",
               "MC4 Directional Oscillator FAST 8.2748 0.0000",
               dates_eu, [12, 32, 54, 77], 52, -53),
]

win_titles = ["Usa500Sep26,Daily", "UsaTecSep26,Daily", "UsaVixAug26,Daily",
              "Ger40Sep26,Daily", "Euro50Sep26,Daily", "Ita40Sep26,Daily"]
windows = [(0, 0, 767, 600), (771, 0, 1538, 600), (1541, 0, 2308, 600),
           (0, 604, 767, 1203), (771, 604, 1538, 1203), (1541, 604, 2308, 1203)]

fig = plt.figure(figsize=(W / 100, H / 100), dpi=100)
fig.patch.set_facecolor("#4f545a")
bg = fig.add_axes([0, 0, 1, 1])
bg.set_xlim(0, W)
bg.set_ylim(H, 0)
bg.axis("off")


def draw_window(x0, y0, x1, y1, title):
    bg.add_patch(Rectangle((x0, y0), x1 - x0, y1 - y0, fc="#d3dde7", ec="#8e9baa", lw=0.8))
    bg.add_patch(Rectangle((x0 + 1, y0 + 1), x1 - x0 - 2, 13, fc="#e6edf4", ec="none"))
    bg.add_patch(Rectangle((x0 + 1, y0 + 13), x1 - x0 - 2, 13, fc="#dbe4ed", ec="none"))
    bg.add_patch(Rectangle((x0 + 5, y0 + 27), x1 - x0 - 11, y1 - y0 - 33,
                           fc="white", ec="#a7b3bf", lw=0.6))
    # icon
    bg.add_patch(Rectangle((x0 + 8, y0 + 6), 14, 15, fc="#eef3f9", ec="#6d8cb0", lw=0.8))
    for k, hh in enumerate([5, 8, 4]):
        bg.add_patch(Rectangle((x0 + 10 + 4 * k, y0 + 19 - hh), 2, hh, fc="#4a7ab8", ec="none"))
    bg.text(x0 + 28, y0 + 15, title, fontsize=8, color="#8894a2", va="center", ha="left")
    # caption buttons
    for k, bx in enumerate([x1 - 107, x1 - 73, x1 - 39]):
        bg.add_patch(Rectangle((bx, y0 + 5), 31, 17, fc="#e9eef4", ec="#8a97a6", lw=0.8))
        cx, cy = bx + 15.5, y0 + 13.5
        if k == 0:
            bg.add_patch(Rectangle((cx - 5, cy + 1), 10, 3, fc="none", ec="#44505c", lw=0.9))
        elif k == 1:
            bg.add_patch(Rectangle((cx - 5, cy - 4), 10, 8, fc="none", ec="#44505c", lw=0.9))
            bg.plot([cx - 5, cx + 5], [cy - 3, cy - 3], color="#44505c", lw=1.2)
        else:
            bg.plot([cx - 5, cx + 5], [cy - 4, cy + 4], color="#44505c", lw=1.6)
            bg.plot([cx - 5, cx + 5], [cy + 4, cy - 4], color="#44505c", lw=1.6)


for (x0, y0, x1, y1), t in zip(windows, win_titles):
    draw_window(x0, y0, x1, y1, t)
for jx in (769, 1539.5):
    bg.plot([jx], [602], marker="v", ms=5, color="#3a3f44")

dn_verts = [(-0.15, 0.5), (0.15, 0.5), (0.15, 0.02), (0.39, 0.02), (0.0, -0.5),
            (-0.39, 0.02), (-0.15, 0.02), (-0.15, 0.5)]
down_arrow = Path(dn_verts, closed=True)
up_arrow = Path([(vx, -vy) for vx, vy in dn_verts], closed=True)


def draw_panel(p):
    L, R, top, mid, otop, bot = p["box"]
    ax = fig.add_axes([L / W, 1 - mid / H, (R - L) / W, (mid - top) / H])
    ox = fig.add_axes([L / W, 1 - bot / H, (R - L) / W, (bot - otop) / H])
    n = min(len(p["open"]), len(p["high"]), len(p["low"]), len(p["close"]))
    o = np.asarray(p["open"][:n], float)
    hi = np.asarray(p["high"][:n], float)
    lo = np.asarray(p["low"][:n], float)
    c = np.asarray(p["close"][:n], float)
    x = np.arange(n)
    xa = -p["off"]
    xb = xa + (R - L) / 8.0
    ybot, ytop = p["ylim"]
    ppx = (ytop - ybot) / (mid - top)

    # candles
    up = c >= o
    base = np.minimum(o, c)
    size = np.maximum(np.abs(c - o), ppx)
    ax.vlines(x, lo, hi, color="black", lw=0.8, zorder=3)
    ax.bar(x[up], size[up], bottom=base[up], width=0.68, color="#1d1db2",
           edgecolor="#0d0d40", linewidth=0.5, zorder=4)
    ax.bar(x[~up], size[~up], bottom=base[~up], width=0.68, color="#c92727",
           edgecolor="#3a0c0c", linewidth=0.5, zorder=4)

    # indicator lines
    ax.plot(p["mid_x"], p["mid_y"], color="#aaaaaa", lw=0.8, ls=(0, (3, 2)), zorder=5)
    ax.plot(p["upper_x"], p["upper_y"], color="#3a85b8", lw=1.0, zorder=5)
    ax.plot(p["lower_x"], p["lower_y"], color="#c96e58", lw=1.0, zorder=5)
    ax.plot(p["ma_x"], p["ma_y"], color="#4d8bc2", lw=2.7, zorder=5, solid_joinstyle="round")
    ax.plot(p["ma_x"], p["ma_y"], color="#bcd8ef", lw=0.9, zorder=5, solid_joinstyle="round")
    ax.axhline(p["last"], color="#8a8a8a", lw=0.8, zorder=2)

    # oscillator
    ox.plot(np.arange(len(p["osc"])), p["osc"], color="#b2b2b2", lw=0.8, zorder=2)
    ox.bar(p["green_idx"], p["green_val"], width=0.8, color="#1fee1f", zorder=3)
    ox.bar(p["red_idx"], p["red_val"], width=0.8, color="#f81010", zorder=3)
    ox.plot(p["up_idx"], [p["up_y"]] * len(p["up_idx"]), ls="none", marker=up_arrow, ms=13,
            color="#3db74a", mew=0, zorder=4)
    ox.plot(p["down_idx"], [p["dn_y"]] * len(p["down_idx"]), ls="none", marker=down_arrow,
            ms=13, color="#d3173f", mew=0, zorder=4)
    oyb, oyt = p["olim"]
    ox.plot(p["dot_low"], [-90] * len(p["dot_low"]), ls="none", marker="o", ms=4.6,
            color="#f5a10a", mew=0, zorder=4)
    ox.plot(p["dot_high"], [oyt - 0.045 * (oyt - oyb)] * len(p["dot_high"]), ls="none",
            marker="o", ms=4.6, color="#f5a10a", mew=0, zorder=4)
    for lv in p["levels"]:
        ox.axhline(lv, color="#222222", lw=0.7, ls=(0, (3, 3)), zorder=1)

    for s in p["seps"]:
        ax.axvline(s, color="black", lw=0.9, ls=(0, (3, 3)), zorder=1)
        ox.axvline(s, color="black", lw=0.9, ls=(0, (3, 3)), zorder=1)

    # axes styling
    for a in (ax, ox):
        a.set_xlim(xa, xb)
        a.set_facecolor("white")
        for sp in a.spines.values():
            sp.set_color("black")
            sp.set_linewidth(0.9)
        a.yaxis.tick_right()
        a.tick_params(axis="y", left=False, right=True, direction="out", length=2.5,
                      width=0.7, pad=2, labelsize=FS, colors="black")
    ax.set_ylim(ybot, ytop)
    ax.set_yticks(p["ticks"])
    ax.set_yticklabels(p["ticklabels"])
    ax.tick_params(axis="x", bottom=False, labelbottom=False)

    ox.set_ylim(oyb, oyt)
    rng = oyt - oyb
    oticks = list(p["levels"]) + [oyt - 0.035 * rng, oyb + 0.035 * rng]
    olabs = ["0.00" if lv == 0 else "%g" % lv for lv in p["levels"]] + list(p["olabels"])
    ox.set_yticks(oticks)
    ox.set_yticklabels(olabs)
    ox.set_xticks(date_pos)
    ox.set_xticklabels(p["dates"], ha="left")
    ox.tick_params(axis="x", direction="out", length=2.5, width=0.7, pad=1.5, labelsize=FS)

    # texts
    ax.text(0, 1, "\u25bc", transform=offset_copy(ax.transAxes, fig=fig, x=4, y=-8.6, units="dots"),
            fontsize=5.5, va="center", ha="left", family="DejaVu Sans", zorder=10)
    ax.text(0, 1, p["title"], transform=offset_copy(ax.transAxes, fig=fig, x=16, y=-8.4, units="dots"),
            fontsize=7, va="center", ha="left", zorder=10)
    ox.text(0, 1, p["otitle"], transform=offset_copy(ox.transAxes, fig=fig, x=5.5, y=-8.4, units="dots"),
            fontsize=FS, va="center", ha="left", zorder=10)
    btr = offset_copy(blended_transform_factory(ax.transAxes, ax.transData), fig=fig, x=3, y=0,
                      units="dots")
    ax.text(1.0, p["last"], p["lastlabel"], transform=btr, fontsize=FS, color="white",
            va="center", ha="left", clip_on=False, zorder=20,
            bbox=dict(boxstyle="square,pad=0.18", fc="black", ec="black"))
    ax.plot([n - 1 + 2.1], [ytop - 4 * ppx], marker="v", ms=6, color="#8e8e8e", mew=0,
            clip_on=False, zorder=10)


for p in panels:
    draw_panel(p)

fig.savefig("out.png", dpi=100)
